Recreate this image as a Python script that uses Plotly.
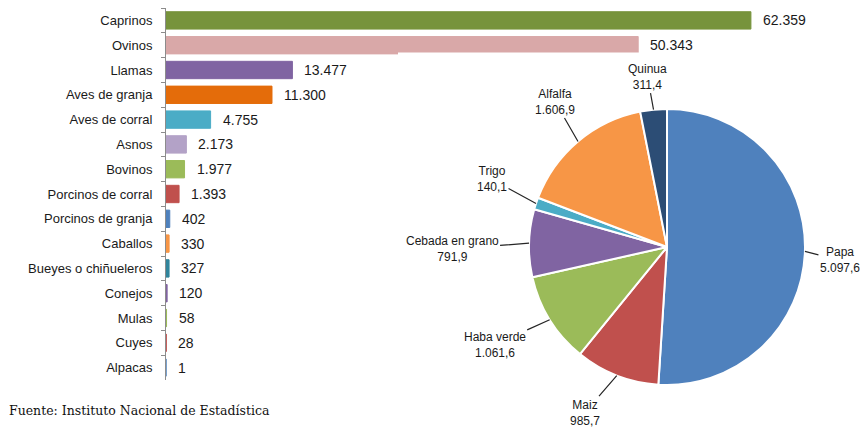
import math
import plotly.graph_objects as go

# Livestock (bar chart)
animals = ["Caprinos", "Ovinos", "Llamas", "Aves de granja", "Aves de corral", "Asnos",
           "Bovinos", "Porcinos de corral", "Porcinos de granja", "Caballos",
           "Bueyes o chiñueleros", "Conejos", "Mulas", "Cuyes", "Alpacas"]
heads = [62359, 50343, 13477, 11300, 4755, 2173, 1977, 1393, 402, 330, 327, 120, 58, 28, 1]
bar_colors = ["#77933C", "#D9A8A8", "#8064A2", "#E46C0A", "#4BACC6", "#B3A2C7",
              "#9BBB59", "#C0504D", "#4F81BD", "#F79646", "#31859C", "#8064A2",
              "#9BBB59", "#C0504D", "#4F81BD"]

# Crops (pie chart)
crops = ["Papa", "Maiz", "Haba verde", "Cebada en grano", "Trigo", "Alfalfa", "Quinua"]
crop_values = [5097.6, 985.7, 1061.6, 791.9, 140.1, 1606.9, 311.4]
pie_colors = ["#4F81BD", "#C0504D", "#9BBB59", "#8064A2", "#4BACC6", "#F79646", "#2C4D75"]
# label offsets (px) from the slice edge, styling only
label_offsets = [(35, 9), (-32, 37), (-55, 25), (-77, 6), (-44, -24), (-23, -40), (-6, -33)]

W, H = 865, 435
PIE_CX, PIE_CY, PIE_R = 667, 247, 138   # pixel layout of the pie panel


def es(v, dec=0):
    s = f"{v:,.{dec}f}"
    return s.replace(",", "#").replace(".", ",").replace("#", ".")


fig = go.Figure()
fig.add_trace(go.Bar(
    x=heads, y=animals, orientation="h",
    marker=dict(color=bar_colors, line=dict(color=bar_colors, width=1)),
    hoverinfo="x+y", showlegend=False,
))

for a, v in zip(animals, heads):
    fig.add_annotation(x=v, y=a, xref="x", yref="y", text=es(v),
                       showarrow=False, xanchor="left", xshift=10,
                       font=dict(family="Liberation Sans, Arial", size=14, color="#1a1a1a"))

fig.add_trace(go.Pie(
    labels=crops, values=crop_values, sort=False, direction="clockwise", rotation=0,
    marker=dict(colors=pie_colors, line=dict(color="white", width=2)),
    textinfo="none",
    domain=dict(x=[(PIE_CX - PIE_R) / W, (PIE_CX + PIE_R) / W],
                y=[1 - (PIE_CY + PIE_R) / H, 1 - (PIE_CY - PIE_R) / H]),
    showlegend=False,
))

# pie labels with leader lines, placed from the slice mid-angles
total = sum(crop_values)
cum = 0.0
for name, v, (dx, dy) in zip(crops, crop_values, label_offsets):
    mid = (cum + v / 2) / total * 2 * math.pi
    cum += v
    ex = PIE_CX + PIE_R * math.sin(mid)
    ey = PIE_CY - PIE_R * math.cos(mid)
    fig.add_annotation(xref="paper", yref="paper", x=ex / W, y=1 - ey / H,
                       ax=dx, ay=dy, showarrow=True, arrowhead=0, arrowwidth=1.2,
                       arrowcolor="#262626", standoff=0,
                       text=f"{name}<br>{es(v, 1)}",
                       font=dict(family="Liberation Sans, Arial", size=12, color="#1a1a1a"))

# white edge of the pie panel overlapping the Ovinos bar
fig.add_shape(type="rect", xref="paper", yref="paper",
              x0=398 / W, x1=645 / W, y0=1 - 57 / H, y1=1 - 52.5 / H,
              fillcolor="white", line=dict(width=0), layer="above")

fig.add_annotation(xref="paper", yref="paper", x=7 / W, y=1 - 410 / H,
                   xanchor="left", yanchor="middle", showarrow=False,
                   text="Fuente: Instituto Nacional de Estadística",
                   font=dict(family="DejaVu Serif, Liberation Serif", size=12.5, color="#111"))

fig.update_layout(
    width=W, height=H, margin=dict(l=0, r=0, t=0, b=0),
    paper_bgcolor="white", plot_bgcolor="white",
    separators=",.",
    bargap=0.3,
    xaxis=dict(domain=[166 / W, 851 / W], range=[0, 73030], visible=False),
    yaxis=dict(domain=[1 - 380 / H, 1 - 8 / H], autorange="reversed",
               showline=True, linecolor="#8c8c8c", linewidth=1,
               ticks="outside", ticklen=4, tickcolor="#8c8c8c", tickson="boundaries",
               ticklabelstandoff=10,
               tickfont=dict(family="Liberation Sans, Arial", size=13, color="#1a1a1a"),
               showgrid=False),
)

fig.write_html("out.html", config={"displayModeBar": False},
               post_script="document.body.style.margin='0';")
